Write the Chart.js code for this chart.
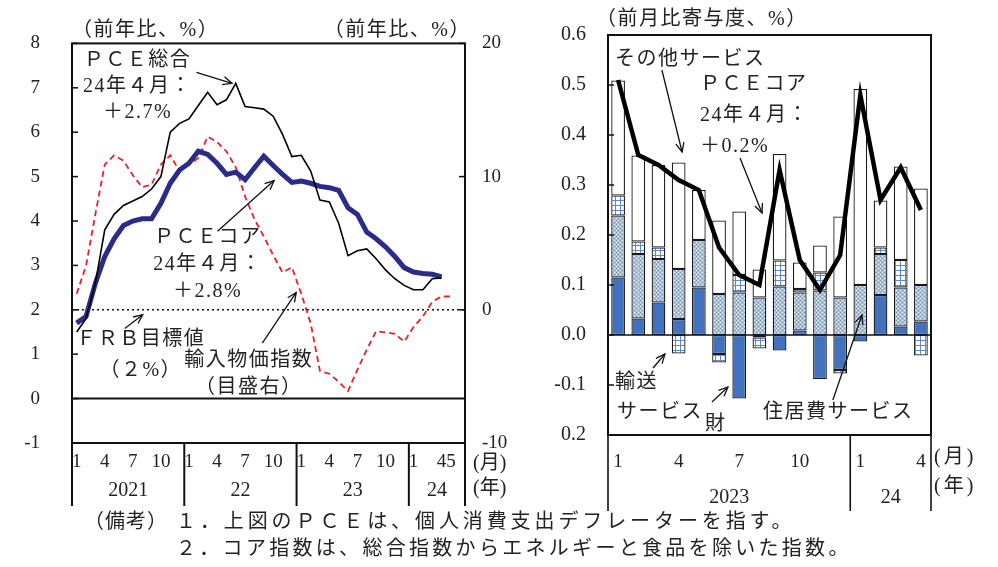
<!DOCTYPE html>
<html>
<head>
<meta charset="utf-8">
<script src="https://cdn.jsdelivr.net/npm/chart.js@4.4.1/dist/chart.umd.min.js"></script>
<style>
  body { margin: 0; background: #fff; width: 998px; height: 567px; position: relative; overflow: hidden;
         font-family: 'Liberation Serif', 'Noto Sans CJK JP', serif; color: #222; }
  #cvL { position: absolute; left: 0; top: 0; }
  #cvR { position: absolute; left: 530px; top: 0; }
  .note { position: absolute; font-size: 20px; letter-spacing: 3.9px; white-space: nowrap; line-height: 1; }
</style>
</head>
<body>
<canvas id="cvL" width="530" height="520"></canvas>
<canvas id="cvR" width="468" height="520"></canvas>
<div class="note" style="left:84px;top:511px;letter-spacing:1px;">（備考）</div>
<div class="note" style="left:176px;top:511px;">１．上図のＰＣＥは、個人消費支出デフレーターを指す。</div>
<div class="note" style="left:176px;top:538px;letter-spacing:3.3px;">２．コア指数は、総合指数からエネルギーと食品を除いた指数。</div>
<script>
// ---- left chart data (monthly, Jan 2021 - Jun 2024 axis)
const leftYears = [2021, 2022, 2023, 2024];
const leftMonthsPerYear = [12, 12, 12, 6];
const leftTickMonths = [1, 4, 7, 10];
const leftTickMonthsLast = [1, 4, 5];
const leftYearLabels = ['2021', '22', '23', '24'];
const leftTickLabels = ['-1', '0', '1', '2', '3', '4', '5', '6', '7', '8'];
const rightAxisTickLabels = ['-10', '0', '10', '20'];

// PCE総合 (前年比, %)
const pceTotal = [1.5, 1.8, 2.6, 3.8, 4.15, 4.35, 4.45, 4.55, 4.72, 5.0, 6.0, 6.2,
  6.3, 6.6, 6.9, 6.62, 6.73, 7.1, 6.58, 6.55, 6.52, 6.36, 5.95, 5.45,
  5.48, 5.13, 4.47, 4.43, 3.95, 3.22, 3.33, 3.37, 3.15, 2.9, 2.7, 2.55,
  2.45, 2.45, 2.7, 2.72];
// PCEコア (前年比, %)
const pceCore = [1.7, 1.85, 2.6, 3.2, 3.6, 3.9, 4.0, 4.05, 4.05, 4.4, 4.85, 5.15,
  5.3, 5.57, 5.5, 5.3, 5.05, 5.1, 4.93, 5.2, 5.46, 5.25, 5.05, 4.87,
  4.9, 4.85, 4.78, 4.75, 4.69, 4.3, 4.15, 3.75, 3.6, 3.42, 3.2, 2.95,
  2.85, 2.82, 2.8, 2.74];
// 輸入物価指数 (前年比, %, 目盛右)
const importPrice = [1.2, 3.3, 7.2, 10.9, 11.6, 11.2, 10.1, 9.2, 9.4, 10.9, 11.6, 10.4,
  10.9, 11.4, 13.0, 12.6, 11.9, 10.7, 8.5, 6.8, 5.5, 4.1, 2.8, 3.2,
  1.2, -1.0, -4.6, -4.8, -5.4, -6.1, -4.5, -3.0, -1.6, -1.7, -1.8, -2.4,
  -1.3, -0.5, 0.6, 1.0, 1.0];

// ---- right chart data (monthly, Jan 2023 - Apr 2024)
const rightYears = [2023, 2024];
const rightMonthsPerYear = [12, 4];
const rightTickMonths = [1, 4, 7, 10];
const rightYearLabels = ['2023', '24'];
const rightTickLabels = ['0.2', '-0.1', '0.0', '0.1', '0.2', '0.3', '0.4', '0.5', '0.6'];

const goods = [0.115, 0.033, 0.065, 0.032, 0.095, -0.038, -0.127, -0.005, -0.031, 0.009, -0.088, -0.07, -0.013, 0.08, 0.017, 0.027];
const housing = [0.124, 0.129, 0.087, 0.1, 0.095, 0.082, 0.085, 0.075, 0.097, 0.076, 0.089, 0.075, 0.1, 0.082, 0.078, 0.073];
const transport = [0.04, 0.025, 0.023, -0.037, 0.0, -0.017, 0.035, -0.022, 0.052, 0.007, 0.036, -0.007, 0.0, 0.013, 0.055, -0.041];
const otherSvc = [0.23, 0.172, 0.165, 0.213, 0.1, 0.147, 0.127, 0.056, 0.213, 0.053, 0.054, 0.162, 0.392, 0.094, 0.187, 0.193];
const coreMoM = [0.51, 0.36, 0.34, 0.31, 0.29, 0.175, 0.12, 0.10, 0.33, 0.15, 0.09, 0.16, 0.48, 0.27, 0.335, 0.25];

Chart.defaults.font.family = "'Liberation Serif', 'Noto Sans CJK JP', serif";
Chart.defaults.color = '#222';

const FONT = "20px 'Liberation Serif', 'Noto Sans CJK JP', serif";

// build month categories
function buildMonths(years, perYear) {
  const labels = [], month = [], yearIdx = [], starts = [];
  years.forEach((y, k) => {
    starts.push(labels.length);
    for (let m = 1; m <= perYear[k]; m++) {
      labels.push(y + '/' + m);
      month.push(m);
      yearIdx.push(k);
    }
  });
  return { labels, month, yearIdx, starts };
}
const L = buildMonths(leftYears, leftMonthsPerYear);
const R = buildMonths(rightYears, rightMonthsPerYear);

function arrow(ctx, x1, y1, x2, y2) {
  ctx.beginPath();
  ctx.moveTo(x1, y1);
  ctx.lineTo(x2, y2);
  ctx.stroke();
  const a = Math.atan2(y2 - y1, x2 - x1), len = 10, w = 0.42;
  ctx.beginPath();
  ctx.moveTo(x2 - len * Math.cos(a - w), y2 - len * Math.sin(a - w));
  ctx.lineTo(x2, y2);
  ctx.lineTo(x2 - len * Math.cos(a + w), y2 - len * Math.sin(a + w));
  ctx.stroke();
}

function textLines(ctx, lines, x, y, gap, align) {
  ctx.textAlign = align;
  ctx.textBaseline = 'middle';
  lines.forEach((s, k) => ctx.fillText(s, x, y + k * gap));
}

// year separators + year labels under a category axis
function drawYearRow(ctx, chart, info, yearLabels, sepBottom, labelY, lw) {
  const xs = chart.scales.x, a = chart.chartArea;
  const half = (xs.getPixelForValue(1) - xs.getPixelForValue(0)) / 2;
  ctx.lineWidth = lw;
  ctx.strokeStyle = '#111';
  const edges = info.starts.map(s => xs.getPixelForValue(s) - half).concat([a.right]);
  edges.forEach(x => {
    ctx.beginPath(); ctx.moveTo(x, a.bottom); ctx.lineTo(x, sepBottom); ctx.stroke();
  });
  ctx.fillStyle = '#222';
  ctx.font = FONT;
  ctx.textAlign = 'center';
  ctx.textBaseline = 'middle';
  yearLabels.forEach((t, k) => ctx.fillText(t, (edges[k] + edges[k + 1]) / 2, labelY));
}

// inward tick marks
function inwardTicks(ctx, scale, x0, dir, len) {
  ctx.lineWidth = 1.5;
  ctx.strokeStyle = '#111';
  scale.ticks.forEach(t => {
    const y = scale.getPixelForValue(t.value);
    ctx.beginPath(); ctx.moveTo(x0, y); ctx.lineTo(x0 + dir * len, y); ctx.stroke();
  });
}

// ---------------- left chart ----------------
const leftDeco = {
  id: 'leftDeco',
  beforeDatasetsDraw(chart) {
    const ctx = chart.ctx, a = chart.chartArea, y = chart.scales.y;
    ctx.save();
    // FRB target (2%) dotted
    ctx.strokeStyle = '#111';
    ctx.lineWidth = 1.6;
    ctx.setLineDash([2, 3]);
    ctx.beginPath(); ctx.moveTo(a.left, y.getPixelForValue(2)); ctx.lineTo(a.right, y.getPixelForValue(2)); ctx.stroke();
    ctx.setLineDash([]);
    // zero line
    ctx.lineWidth = 2;
    ctx.beginPath(); ctx.moveTo(a.left, y.getPixelForValue(0)); ctx.lineTo(a.right, y.getPixelForValue(0)); ctx.stroke();
    ctx.restore();
  },
  afterDraw(chart) {
    const ctx = chart.ctx, a = chart.chartArea, xs = chart.scales.x, y = chart.scales.y;
    const X = i => xs.getPixelForValue(i), Y = v => y.getPixelForValue(v);
    ctx.save();
    ctx.strokeStyle = '#111';
    ctx.lineWidth = 2;
    ctx.strokeRect(a.left, a.top, a.right - a.left, a.bottom - a.top);
    inwardTicks(ctx, y, a.left, 1, 6);
    inwardTicks(ctx, chart.scales.y2, a.right, -1, 6);
    drawYearRow(ctx, chart, L, leftYearLabels, a.bottom + 63, a.bottom + 48, 2);

    ctx.fillStyle = '#222';
    ctx.font = FONT;
    ctx.letterSpacing = '1.5px';
    ctx.textBaseline = 'middle';
    ctx.textAlign = 'left';
    ctx.fillText('（前年比、%）', a.left, a.top - 13);
    ctx.textAlign = 'right';
    ctx.fillText('（前年比、%）', a.right + 6, a.top - 13);
    ctx.textAlign = 'left';
    ctx.letterSpacing = '0px';
    ctx.fillText('(月)', a.right + 8, a.bottom + 21);
    ctx.fillText('(年)', a.right + 8, a.bottom + 46);
    ctx.letterSpacing = '1.5px';

    textLines(ctx, ['ＰＣＥ総合', '24年４月：', '＋2.7%'], X(6.5), Y(7.61), 26, 'center');
    textLines(ctx, ['ＰＣＥコア', '24年４月：', '＋2.8%'], X(14), Y(3.62), 27, 'center');
    textLines(ctx, ['ＦＲＢ目標値', '（２%）'], X(6.85), Y(1.32), 31, 'center');
    textLines(ctx, ['輸入物価指数', '（目盛右）'], X(18.4), Y(0.86), 27, 'center');

    ctx.lineWidth = 1.3;
    arrow(ctx, X(12.8), Y(7.35), X(16.6), Y(7.1));
    arrow(ctx, X(15.05), Y(3.77), X(21.1), Y(4.91));
    arrow(ctx, X(5.14), Y(1.58), X(7.06), Y(1.89));
    arrow(ctx, X(19.84), Y(1.25), X(23.46), Y(2.39));
    ctx.restore();
  }
};

new Chart(document.getElementById('cvL'), {
  type: 'line',
  data: {
    labels: L.labels,
    datasets: [
      { label: 'PCE総合', data: pceTotal, borderColor: '#000', borderWidth: 1.6, pointRadius: 0, yAxisID: 'y', order: 0 },
      { label: 'PCEコア', data: pceCore, borderColor: '#2b2b88', borderWidth: 5, pointRadius: 0, yAxisID: 'y', order: 1 },
      { label: '輸入物価指数', data: importPrice, borderColor: '#e8202a', borderWidth: 1.8, borderDash: [6, 4], pointRadius: 0, yAxisID: 'y2', order: 2 }
    ]
  },
  options: {
    responsive: false,
    animation: false,
    layout: { padding: { top: 33, bottom: 0, left: 0, right: 0 } },
    plugins: { legend: { display: false }, tooltip: { enabled: false } },
    scales: {
      x: {
        type: 'category',
        offset: true,
        grid: { display: false, drawTicks: false },
        border: { display: false },
        ticks: {
          autoSkip: false, maxRotation: 0, padding: 8, font: { size: 19 },
          callback: (v, i) => {
            const list = L.yearIdx[i] === leftYears.length - 1 ? leftTickMonthsLast : leftTickMonths;
            return list.includes(L.month[i]) ? String(L.month[i]) : '';
          }
        },
        afterFit: s => { s.height = 77; }
      },
      y: {
        position: 'left', min: -1, max: 8,
        grid: { display: false, drawTicks: false },
        border: { display: false },
        ticks: { stepSize: 1, padding: 32, font: { size: 19 }, callback: (v, i) => leftTickLabels[i] },
        afterFit: s => { s.width = 72; }
      },
      y2: {
        position: 'right', min: -10, max: 20,
        grid: { display: false, drawTicks: false },
        border: { display: false },
        ticks: { stepSize: 10, padding: 17, font: { size: 19 }, callback: (v, i) => rightAxisTickLabels[i] },
        afterFit: s => { s.width = 65; }
      }
    }
  },
  plugins: [leftDeco]
});

// ---------------- right chart ----------------
function makePattern(w, h, draw) {
  const c = document.createElement('canvas');
  c.width = w; c.height = h;
  draw(c.getContext('2d'));
  return c.getContext('2d').createPattern(c, 'repeat');
}
const housingFill = makePattern(4, 4, g => {
  g.fillStyle = '#a7bde0'; g.fillRect(0, 0, 4, 4);
  g.fillStyle = '#ffffff'; g.fillRect(0, 0, 1, 1); g.fillRect(2, 2, 1, 1);
  g.fillStyle = '#6f93cc'; g.fillRect(2, 0, 1, 1); g.fillRect(0, 2, 1, 1);
});
const transportFill = makePattern(5, 5, g => {
  g.fillStyle = '#ffffff'; g.fillRect(0, 0, 5, 5);
  g.fillStyle = '#5b88cb'; g.fillRect(0, 0, 5, 1); g.fillRect(0, 0, 1, 5);
});

const rightDeco = {
  id: 'rightDeco',
  beforeDatasetsDraw(chart) {
    const ctx = chart.ctx, a = chart.chartArea, y = chart.scales.y;
    ctx.save();
    ctx.strokeStyle = '#111';
    ctx.lineWidth = 1.5;
    ctx.beginPath(); ctx.moveTo(a.left, y.getPixelForValue(0)); ctx.lineTo(a.right, y.getPixelForValue(0)); ctx.stroke();
    ctx.restore();
  },
  afterDraw(chart) {
    const ctx = chart.ctx, a = chart.chartArea, xs = chart.scales.x, y = chart.scales.y;
    const X = i => xs.getPixelForValue(i), Y = v => y.getPixelForValue(v);
    ctx.save();
    ctx.strokeStyle = '#111';
    ctx.lineWidth = 2;
    ctx.strokeRect(a.left, a.top, a.right - a.left, a.bottom - a.top);
    inwardTicks(ctx, y, a.left, 1, 6);
    drawYearRow(ctx, chart, R, rightYearLabels, a.bottom + 76, a.bottom + 63, 1.6);

    ctx.fillStyle = '#222';
    ctx.font = FONT;
    ctx.letterSpacing = '1.5px';
    ctx.textBaseline = 'middle';
    ctx.textAlign = 'left';
    ctx.fillText('（前月比寄与度、%）', a.left - 12, a.top - 15);
    ctx.letterSpacing = '3px';
    ctx.fillText('(月)', a.right + 3, a.bottom + 23);
    ctx.fillText('(年)', a.right + 3, a.bottom + 52);
    ctx.letterSpacing = '1.5px';

    textLines(ctx, ['その他サービス'], X(-0.15), Y(0.55), 0, 'left');
    textLines(ctx, ['ＰＣＥコア', '24年４月：', '＋0.2%'], X(4.06), Y(0.5), 31, 'left');
    textLines(ctx, ['輸送'], X(-0.15), Y(-0.096), 0, 'left');
    textLines(ctx, ['サービス'], X(-0.05), Y(-0.156), 0, 'left');
    textLines(ctx, ['財'], X(4.3), Y(-0.18), 0, 'left');
    textLines(ctx, ['住居費サービス'], X(7.18), Y(-0.156), 0, 'left');

    ctx.lineWidth = 1.3;
    arrow(ctx, X(2.17), Y(0.53), X(3.17), Y(0.366));
    arrow(ctx, X(6.04), Y(0.354), X(7.13), Y(0.244));
    arrow(ctx, X(1.73), Y(-0.066), X(2.32), Y(-0.038));
    arrow(ctx, X(4.65), Y(-0.134), X(5.44), Y(-0.104));
    arrow(ctx, X(10.64), Y(-0.13), X(12.08), Y(0.04));
    ctx.restore();
  }
};

const barStyle = { type: 'bar', stack: 's', borderColor: '#1a1a1a', borderWidth: 1.3, borderSkipped: false, order: 1 };

new Chart(document.getElementById('cvR'), {
  type: 'bar',
  data: {
    labels: R.labels,
    datasets: [
      Object.assign({ label: '財', data: goods, backgroundColor: '#4272bd' }, barStyle),
      Object.assign({ label: '住居費サービス', data: housing, backgroundColor: housingFill }, barStyle),
      Object.assign({ label: '輸送サービス', data: transport, backgroundColor: transportFill }, barStyle),
      Object.assign({ label: 'その他サービス', data: otherSvc, backgroundColor: '#ffffff' }, barStyle),
      { type: 'line', label: 'PCEコア', data: coreMoM, stack: 'line', borderColor: '#000', borderWidth: 4.5, pointRadius: 0, order: 0 }
    ]
  },
  options: {
    responsive: false,
    animation: false,
    barPercentage: 0.68,
    categoryPercentage: 1,
    layout: { padding: { top: 35, bottom: 0, left: 0, right: 67 } },
    plugins: { legend: { display: false }, tooltip: { enabled: false } },
    scales: {
      x: {
        type: 'category',
        stacked: true,
        offset: true,
        grid: { display: false, drawTicks: false },
        border: { display: false },
        ticks: {
          autoSkip: false, maxRotation: 0, padding: 16, font: { size: 19 },
          callback: (v, i) => rightTickMonths.includes(R.month[i]) ? String(R.month[i]) : ''
        },
        afterFit: s => { s.height = 85; }
      },
      y: {
        stacked: true,
        min: -0.2, max: 0.6,
        grid: { display: false, drawTicks: false },
        border: { display: false },
        ticks: { stepSize: 0.1, padding: 22, font: { size: 20 }, callback: (v, i) => rightTickLabels[i] },
        afterFit: s => { s.width = 78; }
      }
    }
  },
  plugins: [rightDeco]
});
</script>
</body>
</html>
